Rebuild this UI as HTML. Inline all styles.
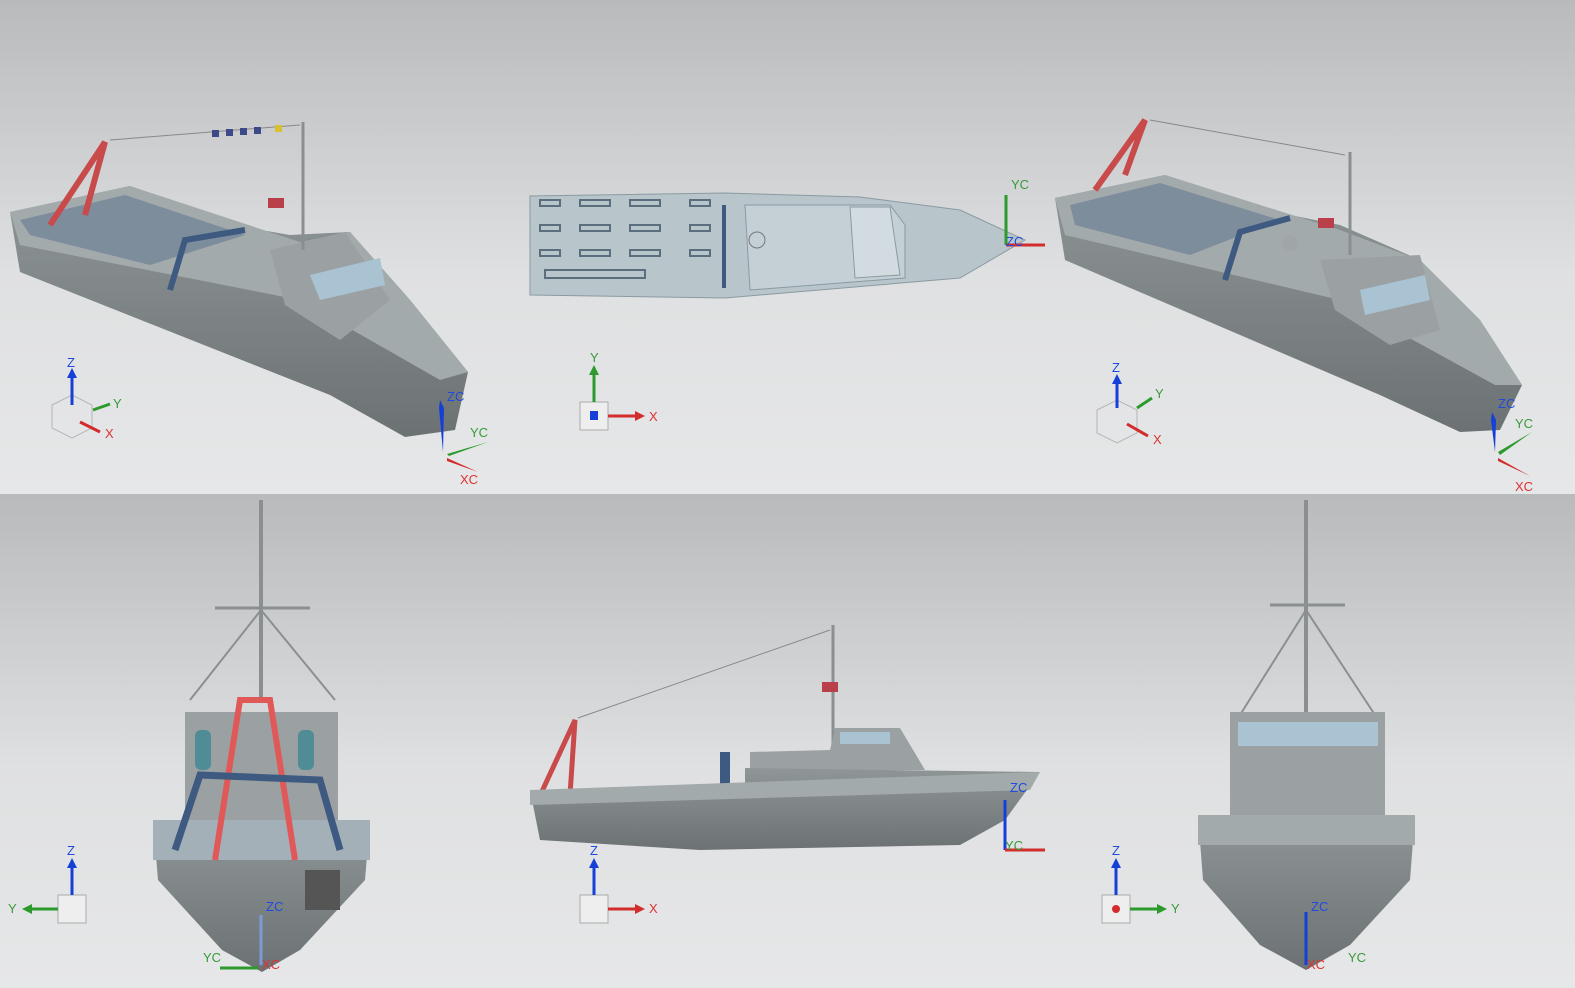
<!DOCTYPE html>
<html><head><style>
html,body{margin:0;padding:0;width:1575px;height:988px;overflow:hidden;}
svg{display:block;font-family:"Liberation Sans",sans-serif;font-size:13px;}
</style></head><body>
<svg width="1575" height="988" viewBox="0 0 1575 988">
<defs>
<linearGradient id="bg" x1="0" y1="0" x2="0" y2="1">
<stop offset="0" stop-color="#b9babc"/><stop offset="0.55" stop-color="#dfe0e1"/><stop offset="1" stop-color="#e6e7e8"/></linearGradient>
<linearGradient id="hull" x1="0" y1="0" x2="0" y2="1">
<stop offset="0" stop-color="#8f9698"/><stop offset="1" stop-color="#6c7273"/></linearGradient>
</defs>
<rect x="0" y="0" width="1575" height="494" fill="url(#bg)"/>
<rect x="0" y="494" width="1575" height="494" fill="url(#bg)"/>

<!-- TOP LEFT ship -->
<g>
<polygon points="10,212 130,186 250,228 290,235 350,232 410,300 468,372 455,430 405,437 330,395 20,272" fill="url(#hull)"/>
<polygon points="10,212 130,186 300,242 350,232 410,300 468,372 440,380 300,300 20,245" fill="#a3aaac"/>
<polygon points="20,220 125,195 245,235 150,265 30,235" fill="#7d8d9c"/>
<polygon points="270,250 345,232 390,300 340,340 285,305" fill="#9ba1a3"/>
<polygon points="310,275 380,258 385,285 320,300" fill="#a9c3d2"/>
<polyline points="50,225 105,142 85,215" fill="none" stroke="#c84a4a" stroke-width="6"/>
<polyline points="170,290 185,240 245,230" fill="none" stroke="#3f5a80" stroke-width="6"/>
<line x1="303" y1="250" x2="303" y2="122" stroke="#8a9092" stroke-width="3"/>
<line x1="110" y1="140" x2="300" y2="125" stroke="#888" stroke-width="1"/>
<rect x="268" y="198" width="16" height="10" fill="#b9404a"/>
<g fill="#3c4a8a"><rect x="212" y="130" width="7" height="7"/><rect x="226" y="129" width="7" height="7"/><rect x="240" y="128" width="7" height="7"/><rect x="254" y="127" width="7" height="7"/><rect x="275" y="125" width="7" height="7" fill="#d8c030"/></g>
</g>
<!-- triad TL -->
<g>
<polygon points="52,405 72,395 92,405 92,428 72,438 52,428" fill="none" stroke="#b5b5b5"/>
<line x1="72" y1="405" x2="72" y2="375" stroke="#1540d8" stroke-width="3"/><polygon points="67,378 72,368 77,378" fill="#1540d8"/>
<line x1="93" y1="410" x2="110" y2="404" stroke="#2c9a2c" stroke-width="3"/>
<line x1="80" y1="422" x2="100" y2="432" stroke="#d32c2c" stroke-width="3"/>
<text x="67" y="367" fill="#1f4ae0">Z</text><text x="113" y="408" fill="#3a9a3a">Y</text><text x="105" y="438" fill="#d33">X</text>
<polygon points="440,400 444,408 443,452 439,408" fill="#1540d8"/>
<polygon points="447,454 488,442 449,456" fill="#2c9a2c"/>
<polygon points="447,458 478,472 447,461" fill="#d32c2c"/>
<text x="447" y="401" fill="#1f4ae0">ZC</text><text x="470" y="437" fill="#3a9a3a">YC</text><text x="460" y="484" fill="#d33">XC</text>
</g>

<!-- TOP MIDDLE plan -->
<g>
<polygon points="530,196 725,193 860,197 960,210 1025,240 960,278 725,298 530,295" fill="#b8c6cc" stroke="#8a9aa0"/>
<polygon points="745,205 890,205 905,225 905,278 750,290" fill="#c4d0d5" stroke="#8a9aa0"/>
<polygon points="850,207 890,207 900,275 855,278" fill="#d2dce0" stroke="#8a9aa0"/>
<g fill="none" stroke="#5a6e7e" stroke-width="2">
<rect x="540" y="200" width="20" height="6"/><rect x="580" y="200" width="30" height="6"/><rect x="630" y="200" width="30" height="6"/><rect x="690" y="200" width="20" height="6"/>
<rect x="540" y="225" width="20" height="6"/><rect x="580" y="225" width="30" height="6"/><rect x="630" y="225" width="30" height="6"/><rect x="690" y="225" width="20" height="6"/>
<rect x="540" y="250" width="20" height="6"/><rect x="580" y="250" width="30" height="6"/><rect x="630" y="250" width="30" height="6"/><rect x="690" y="250" width="20" height="6"/>
<rect x="545" y="270" width="100" height="8"/>
</g>
<line x1="724" y1="205" x2="724" y2="288" stroke="#3f5a80" stroke-width="4"/>
<circle cx="757" cy="240" r="8" fill="none" stroke="#777"/>
<line x1="1006" y1="245" x2="1006" y2="195" stroke="#2c9a2c" stroke-width="3"/>
<line x1="1006" y1="245" x2="1045" y2="245" stroke="#d32c2c" stroke-width="3"/>
<text x="1011" y="189" fill="#3a9a3a">YC</text><text x="1006" y="246" fill="#1f4ae0">ZC</text>
<rect x="580" y="402" width="28" height="28" fill="#eee" stroke="#aaa"/><rect x="590" y="411" width="8" height="9" fill="#1540d8"/>
<line x1="594" y1="402" x2="594" y2="372" stroke="#2c9a2c" stroke-width="3"/><polygon points="589,375 594,365 599,375" fill="#2c9a2c"/>
<line x1="608" y1="416" x2="638" y2="416" stroke="#d32c2c" stroke-width="3"/><polygon points="635,411 645,416 635,421" fill="#d32c2c"/>
<text x="590" y="362" fill="#3a9a3a">Y</text><text x="649" y="421" fill="#d33">X</text>
</g>

<!-- TOP RIGHT ship -->
<g>
<polygon points="1055,198 1165,175 1290,215 1340,225 1420,260 1480,320 1522,385 1500,430 1460,432 1380,395 1065,260" fill="url(#hull)"/>
<polygon points="1055,198 1165,175 1340,230 1420,260 1480,320 1522,385 1495,385 1340,300 1065,235" fill="#a3aaac"/>
<polygon points="1070,205 1160,183 1280,220 1190,255 1075,225" fill="#7d8d9c"/>
<polygon points="1320,260 1420,255 1440,330 1390,345 1335,310" fill="#9ba1a3"/>
<polygon points="1360,290 1425,275 1430,300 1365,315" fill="#a9c3d2"/>
<polyline points="1095,190 1145,120 1125,175" fill="none" stroke="#c84a4a" stroke-width="6"/>
<polyline points="1225,280 1240,232 1290,218" fill="none" stroke="#3f5a80" stroke-width="6"/>
<line x1="1350" y1="255" x2="1350" y2="152" stroke="#8a9092" stroke-width="3"/>
<line x1="1150" y1="120" x2="1345" y2="155" stroke="#888" stroke-width="1"/>
<rect x="1318" y="218" width="16" height="10" fill="#b9404a"/>
<circle cx="1290" cy="243" r="8" fill="#a0a6a8"/>
</g>
<g>
<polygon points="1097,410 1117,400 1137,410 1137,433 1117,443 1097,433" fill="none" stroke="#b5b5b5"/>
<line x1="1117" y1="408" x2="1117" y2="382" stroke="#1540d8" stroke-width="3"/><polygon points="1112,384 1117,374 1122,384" fill="#1540d8"/>
<line x1="1137" y1="408" x2="1152" y2="398" stroke="#2c9a2c" stroke-width="3"/>
<line x1="1127" y1="424" x2="1148" y2="436" stroke="#d32c2c" stroke-width="3"/>
<text x="1112" y="372" fill="#1f4ae0">Z</text><text x="1155" y="398" fill="#3a9a3a">Y</text><text x="1153" y="444" fill="#d33">X</text>
<polygon points="1492,412 1496,420 1495,452 1491,420" fill="#1540d8"/>
<polygon points="1498,452 1532,432 1500,455" fill="#2c9a2c"/>
<polygon points="1498,458 1530,476 1498,461" fill="#d32c2c"/>
<text x="1498" y="408" fill="#1f4ae0">ZC</text><text x="1515" y="428" fill="#3a9a3a">YC</text><text x="1515" y="491" fill="#d33">XC</text>
</g>

<!-- BOTTOM LEFT stern view -->
<g>
<line x1="261" y1="500" x2="261" y2="700" stroke="#8a9092" stroke-width="4"/>
<polyline points="190,700 261,610 335,700" fill="none" stroke="#8a9092" stroke-width="2"/>
<line x1="215" y1="608" x2="310" y2="608" stroke="#8a9092" stroke-width="3"/>
<polygon points="185,712 338,712 338,820 185,820" fill="#9ba1a3"/>
<rect x="195" y="730" width="16" height="40" rx="6" fill="#4f8c95"/><rect x="298" y="730" width="16" height="40" rx="6" fill="#4f8c95"/>
<polygon points="153,820 370,820 365,880 300,950 262,972 222,950 158,880" fill="url(#hull)"/>
<rect x="153" y="820" width="217" height="40" fill="#a4b0b8"/>
<polyline points="215,860 240,700 270,700 295,860" fill="none" stroke="#e05858" stroke-width="6"/>
<polyline points="175,850 200,775 320,780 340,850" fill="none" stroke="#3f5a80" stroke-width="7"/>
<rect x="305" y="870" width="35" height="40" fill="#555"/>
<line x1="261" y1="965" x2="261" y2="915" stroke="#7a9ad8" stroke-width="3"/>
<text x="266" y="911" fill="#1f4ae0">ZC</text><text x="203" y="962" fill="#3a9a3a">YC</text><text x="262" y="969" fill="#d33">XC</text>
<line x1="220" y1="968" x2="258" y2="968" stroke="#2c9a2c" stroke-width="3"/>
<rect x="58" y="895" width="28" height="28" fill="#eee" stroke="#aaa"/>
<line x1="72" y1="895" x2="72" y2="865" stroke="#1540d8" stroke-width="3"/><polygon points="67,868 72,858 77,868" fill="#1540d8"/>
<line x1="58" y1="909" x2="30" y2="909" stroke="#2c9a2c" stroke-width="3"/><polygon points="32,904 22,909 32,914" fill="#2c9a2c"/>
<text x="67" y="855" fill="#1f4ae0">Z</text><text x="8" y="913" fill="#3a9a3a">Y</text>
</g>

<!-- BOTTOM MIDDLE side view -->
<g>
<line x1="833" y1="625" x2="833" y2="750" stroke="#8a9092" stroke-width="3"/>
<line x1="578" y1="718" x2="830" y2="630" stroke="#888" stroke-width="1"/>
<rect x="822" y="682" width="16" height="10" fill="#b9404a"/>
<polyline points="538,800 575,720 570,795" fill="none" stroke="#c84a4a" stroke-width="5"/>
<polygon points="750,752 830,750 835,728 900,728 925,770 750,770" fill="#9ba1a3"/>
<rect x="840" y="732" width="50" height="12" fill="#a9c3d2"/>
<rect x="720" y="752" width="10" height="45" fill="#3f5a80"/>
<polygon points="530,790 745,790 745,768 1040,772 1005,820 960,845 700,850 540,840" fill="url(#hull)"/>
<polygon points="530,790 1040,772 1030,790 530,805" fill="#a3aaac"/>
<line x1="1005" y1="800" x2="1005" y2="850" stroke="#1540d8" stroke-width="3"/>
<line x1="1005" y1="850" x2="1045" y2="850" stroke="#d32c2c" stroke-width="3"/>
<text x="1010" y="792" fill="#1f4ae0">ZC</text><text x="1005" y="850" fill="#3a9a3a">YC</text>
<rect x="580" y="895" width="28" height="28" fill="#eee" stroke="#aaa"/>
<line x1="594" y1="895" x2="594" y2="865" stroke="#1540d8" stroke-width="3"/><polygon points="589,868 594,858 599,868" fill="#1540d8"/>
<line x1="608" y1="909" x2="638" y2="909" stroke="#d32c2c" stroke-width="3"/><polygon points="635,904 645,909 635,914" fill="#d32c2c"/>
<text x="590" y="855" fill="#1f4ae0">Z</text><text x="649" y="913" fill="#d33">X</text>
</g>

<!-- BOTTOM RIGHT bow view -->
<g>
<line x1="1306" y1="500" x2="1306" y2="715" stroke="#8a9092" stroke-width="4"/>
<polyline points="1240,715 1306,610 1375,715" fill="none" stroke="#8a9092" stroke-width="2"/>
<line x1="1270" y1="605" x2="1345" y2="605" stroke="#8a9092" stroke-width="3"/>
<polygon points="1230,712 1385,712 1385,815 1230,815" fill="#9ba1a3"/>
<rect x="1238" y="722" width="140" height="24" fill="#a9c3d2"/>
<polygon points="1198,815 1415,815 1410,880 1350,945 1306,970 1260,945 1203,880" fill="url(#hull)"/>
<rect x="1198" y="815" width="217" height="30" fill="#a3aaac"/>
<line x1="1306" y1="965" x2="1306" y2="912" stroke="#1540d8" stroke-width="3"/>
<text x="1311" y="911" fill="#1f4ae0">ZC</text><text x="1348" y="962" fill="#3a9a3a">YC</text><text x="1307" y="969" fill="#d33">XC</text>
<rect x="1102" y="895" width="28" height="28" fill="#eee" stroke="#aaa"/><circle cx="1116" cy="909" r="4" fill="#d32c2c"/>
<line x1="1116" y1="895" x2="1116" y2="865" stroke="#1540d8" stroke-width="3"/><polygon points="1111,868 1116,858 1121,868" fill="#1540d8"/>
<line x1="1130" y1="909" x2="1160" y2="909" stroke="#2c9a2c" stroke-width="3"/><polygon points="1157,904 1167,909 1157,914" fill="#2c9a2c"/>
<text x="1112" y="855" fill="#1f4ae0">Z</text><text x="1171" y="913" fill="#3a9a3a">Y</text>
</g>
</svg>
</body></html>
